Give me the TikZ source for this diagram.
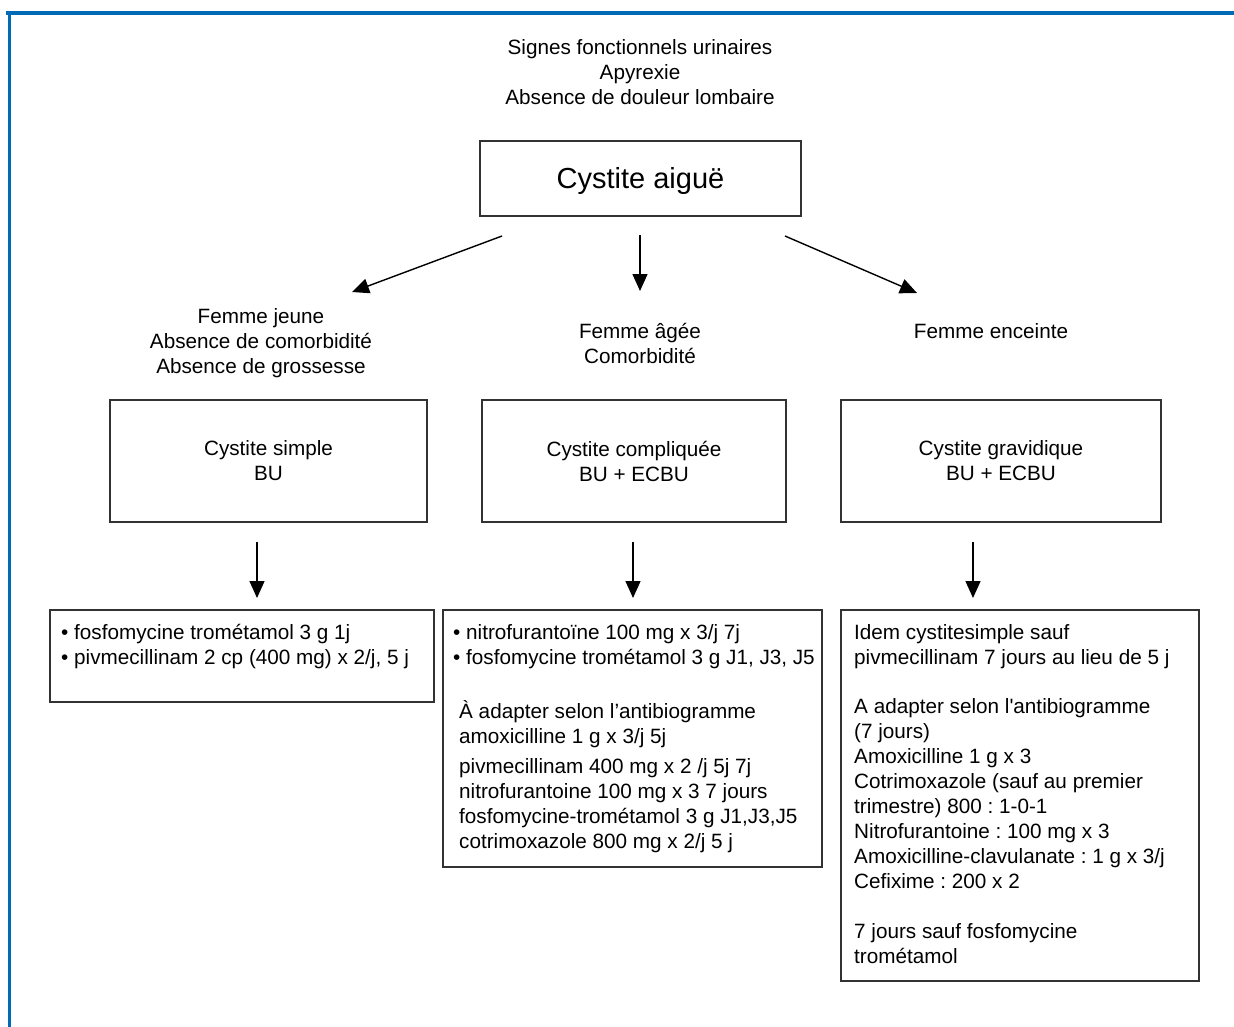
\documentclass[tikz,border=0pt]{standalone}
\usepackage{fontspec}
\newfontfamily\sansfnt{Liberation Sans}
\usetikzlibrary{arrows.meta}
\definecolor{frameblue}{RGB}{0,106,180}
\definecolor{boxline}{RGB}{50,50,50}
\frenchspacing
\tikzset{
  txt/.style={font=\fontsize{20.7}{25}\sansfnt, inner sep=0pt, text=black},
  bigtxt/.style={font=\fontsize{29}{34}\sansfnt, inner sep=0pt},
  panel/.style={draw=boxline, line width=1.3pt, inner sep=0pt},
  flow/.style={line width=1.4pt, -{Triangle[length=17pt,width=15pt]}},
  framerule/.style={draw=frameblue, line cap=rect},
}
\newcommand{\firstline}{\rule{0pt}{20pt}}
\begin{document}
\begin{tikzpicture}[x=1pt,y=-1pt]
\useasboundingbox (0,0) rectangle (1234,1026);
\fill[white] (0,0) rectangle (1234,1026);

% page frame
\draw[framerule, line width=4pt] (8,13) -- (1234,13);
\draw[framerule, line width=3pt] (9,13) -- (9,1026);

% entry criteria and root box
\node[txt, align=center] (crit) at (640,72) {Signes fonctionnels urinaires\\Apyrexie\\Absence de douleur lombaire};
\node[panel, minimum width=321pt, minimum height=75pt] (cyst) at (640.5,178.5) {};
\node[bigtxt] (cysttxt) at (640.5,180.5) {Cystite aiguë};

% patient groups
\node[txt, align=center] (young) at (261,343) {Femme jeune\\Absence de comorbidité\\Absence de grossesse};
\node[txt, align=center] (old) at (640,343) {Femme âgée\\Comorbidité};
\node[txt] (preg) at (991,331) {Femme enceinte};

% cystitis types
\node[panel, txt, align=center, minimum width=317pt, minimum height=122pt] (simple) at (268.5,461) {Cystite simple\\BU};
\node[panel, txt, align=center, minimum width=304pt, minimum height=122pt] (compl) at (634,461) {Cystite compliquée\\BU + ECBU};
\node[panel, txt, align=center, minimum width=320pt, minimum height=122pt] (grav) at (1001,461) {Cystite gravidique\\BU + ECBU};

% treatment panels
\node[panel, minimum width=384pt, minimum height=92pt] (trt1) at (242,656) {};
\node[panel, minimum width=379pt, minimum height=257pt] (trt2) at (632.5,738.5) {};
\node[panel, minimum width=358pt, minimum height=371pt] (trt3) at (1020,795.5) {};

\node[txt, align=left, anchor=north west] (trt1txt) at (61,619) {\firstline• fosfomycine trométamol 3 g 1j\\• pivmecillinam 2 cp (400 mg) x 2/j, 5 j};
\node[txt, align=left, anchor=north west] (trt2txt) at (453,619) {\firstline• nitrofurantoïne 100 mg x 3/j 7j\\• fosfomycine trométamol 3 g J1, J3, J5};
\node[txt, align=left, anchor=north west] (trt2alt) at (459,698) {\firstline À adapter selon l’antibiogramme\\amoxicilline 1 g x 3/j 5j\\[5pt]pivmecillinam 400 mg x 2 /j 5j 7j\\nitrofurantoine 100 mg x 3 7 jours\\fosfomycine-trométamol 3 g J1,J3,J5\\cotrimoxazole 800 mg x 2/j 5 j};
\node[txt, align=left, anchor=north west] (trt3txt) at (854,619) {\firstline Idem cystitesimple sauf\\pivmecillinam 7 jours au lieu de 5 j\\[24pt]A adapter selon l'antibiogramme\\(7 jours)\\Amoxicilline 1 g x 3\\Cotrimoxazole (sauf au premier\\trimestre) 800 : 1-0-1\\Nitrofurantoine : 100 mg x 3\\Amoxicilline-clavulanate : 1 g x 3/j\\Cefixime : 200 x 2\\[25pt]7 jours sauf fosfomycine\\trométamol};

% connector end points
\coordinate (a1s) at (502,236); \coordinate (a1e) at (352,292);
\coordinate (a2s) at (640,235); \coordinate (a2e) at (640,291);
\coordinate (a3s) at (785,236); \coordinate (a3e) at (917,293);
\coordinate (d1s) at (257,542); \coordinate (d1e) at (257,598);
\coordinate (d2s) at (633,542); \coordinate (d2e) at (633,598);
\coordinate (d3s) at (973,542); \coordinate (d3e) at (973,598);

\draw[flow] (a1s) -- (a1e);
\draw[flow] (a2s) -- (a2e);
\draw[flow] (a3s) -- (a3e);
\draw[flow] (d1s) -- (d1e);
\draw[flow] (d2s) -- (d2e);
\draw[flow] (d3s) -- (d3e);
\end{tikzpicture}
\end{document}
